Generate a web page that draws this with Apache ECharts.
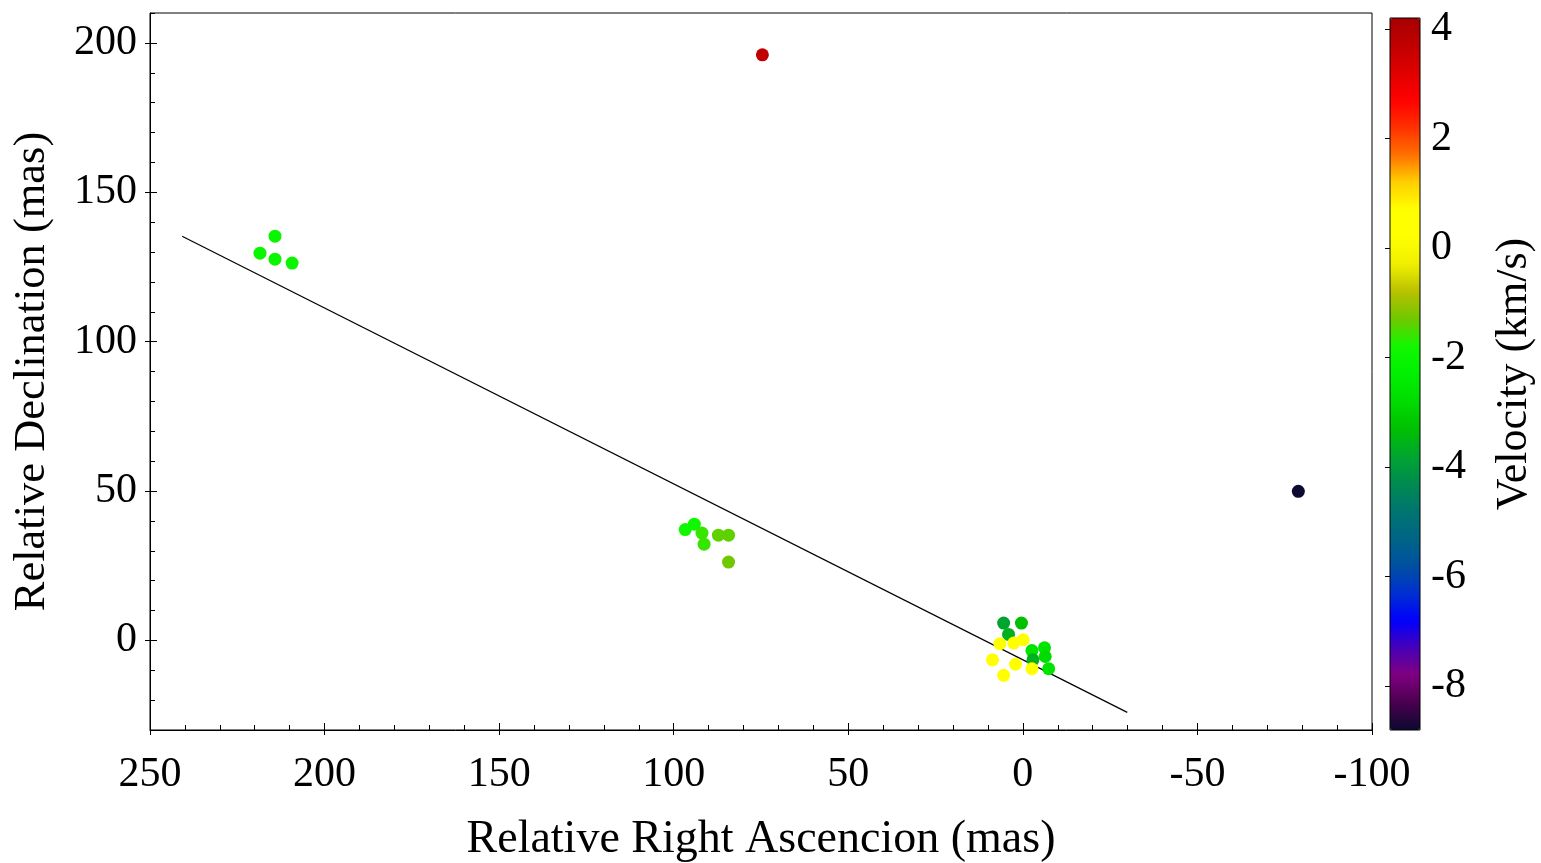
<!DOCTYPE html>
<html>
<head>
<meta charset="utf-8">
<title>Velocity map</title>
<script src="https://cdn.jsdelivr.net/npm/echarts@6/dist/echarts.min.js"></script>
<style>
  html, body { margin: 0; padding: 0; background: #fff; }
  #chart { width: 1541px; height: 863px; }
</style>
</head>
<body>
<div id="chart"></div>
<script>
// spots: [RA offset (mas), Dec offset (mas), velocity (km/s)]
const spotsRA = [
  74.6, -78.9,
  214.2, 218.5, 214.2, 209.3,
  96.7, 94.1, 91.9, 91.3, 87.2, 84.3, 84.3,
  5.5, 0.4, 4.1, 6.6, 2.6, -0.1, -2.6, -6.2, -6.4, -2.9, -7.4, 8.7, 2.1, 5.5, -2.6
];
const spotsDec = [
  196.0, 49.9,
  135.3, 129.6, 127.6, 126.3,
  37.1, 38.9, 35.9, 32.2, 35.2, 35.2, 26.2,
  5.8, 5.8, 2.0, -1.1, -0.9, 0.2, -3.4, -2.5, -5.4, -6.5, -9.5, -6.5, -8.0, -11.7, -9.5
];
const spotsVel = [
  3.7, -8.8,
  -2.0, -2.0, -2.0, -2.0,
  -1.8, -1.8, -1.6, -1.6, -1.4, -1.4, -1.3,
  -3.8, -3.3, -3.6, 0.3, 0.3, 0.3, -2.6, -2.6, -2.8, -3.6, -2.6, 0.3, 0.3, 0.3, 0.3
];
// fitted line end points
const fitRA = [240.8, -29.9];
const fitDec = [135.3, -24.1];

// axis ticks
const raTicks = [250, 200, 150, 100, 50, 0, -50, -100];
const decTicks = [0, 50, 100, 150, 200];
const velTicks = [-8, -6, -4, -2, 0, 2, 4];

// colour bar stops, every 0.5 km/s from -8.8 to 4.2
const velColors = [
  '#0c0a30', '#4a0050', '#800080', '#4800b8', '#0000ff', '#0030d0', '#0050a0',
  '#006585', '#007570', '#008a50', '#00a530', '#00c000', '#00dc00', '#00f000',
  '#10f800', '#70c800', '#b8c000', '#f0f000', '#ffff00', '#ffff00', '#ffd000',
  '#ff7000', '#ff3000', '#ff0000', '#e00000', '#c00000', '#a80000'
];

const spots = spotsRA.map((ra, i) => [ra, spotsDec[i], spotsVel[i]]);
const fitLine = fitRA.map((ra, i) => [ra, fitDec[i]]);

const font = 'Liberation Serif, Times New Roman, serif';
const tickFont = { fontFamily: font, fontSize: 42, color: '#000' };

let myEchart = echarts.init(document.getElementById('chart'));

let optionData = {
  animation: false,
  backgroundColor: '#fff',
  grid: [
    {
      left: 150, top: 13, width: 1222, height: 717, outerBoundsMode: 'none',
      show: true, borderColor: '#000', borderWidth: 1, backgroundColor: 'transparent'
    },
    {
      left: 1390, top: 18, width: 30, height: 712, outerBoundsMode: 'none',
      show: true, borderColor: '#000', borderWidth: 1, backgroundColor: 'transparent', z: 10
    }
  ],
  xAxis: [
    {
      type: 'value', gridIndex: 0, position: 'bottom', min: -100, max: 250, interval: 50, inverse: true,
      axisLine: { show: true, onZero: false, lineStyle: { color: '#000', width: 1 } },
      axisTick: { show: true, inside: true, length: 7, lineStyle: { color: '#000' } },
      minorTick: { show: true, splitNumber: 5, length: 5, lineStyle: { color: '#000' } },
      splitLine: { show: false },
      axisLabel: { ...tickFont, margin: 24, customValues: raTicks },
      name: 'Relative Right Ascencion (mas)',
      nameLocation: 'middle', nameGap: 87,
      nameTextStyle: { fontFamily: font, fontSize: 46, color: '#000' }
    },
    {
      // outer half of the major ticks
      type: 'value', gridIndex: 0, position: 'bottom', min: -100, max: 250, interval: 50, inverse: true,
      axisLine: { show: false, onZero: false },
      axisTick: { show: true, inside: false, length: 5, lineStyle: { color: '#000' } },
      axisLabel: { show: false },
      splitLine: { show: false }
    },
    {
      type: 'value', gridIndex: 1, min: 0, max: 1, show: false
    }
  ],
  yAxis: [
    {
      type: 'value', gridIndex: 0, position: 'left', min: -30, max: 210,
      axisLine: { show: true, onZero: false, lineStyle: { color: '#000', width: 1 } },
      axisTick: { show: true, inside: true, length: 7, customValues: decTicks, lineStyle: { color: '#000' } },
      splitLine: { show: false },
      axisLabel: { ...tickFont, margin: 13, customValues: decTicks },
      name: 'Relative Declination (mas)',
      nameLocation: 'middle', nameGap: 95,
      nameTextStyle: { fontFamily: font, fontSize: 44.5, color: '#000' }
    },
    {
      type: 'value', gridIndex: 0, position: 'left', min: -30, max: 210,
      axisLine: { show: false, onZero: false },
      axisTick: { show: true, inside: false, length: 5, customValues: decTicks, lineStyle: { color: '#000' } },
      axisLabel: { show: false },
      splitLine: { show: false }
    },
    {
      // minor ticks every 10 mas
      type: 'value', gridIndex: 0, position: 'left', min: -30, max: 210, interval: 10,
      axisLine: { show: false, onZero: false },
      axisTick: { show: true, inside: true, length: 5, lineStyle: { color: '#000' } },
      axisLabel: { show: false },
      splitLine: { show: false }
    },
    {
      type: 'value', gridIndex: 1, min: -8.8, max: 4.2, position: 'right',
      axisLine: { show: false },
      axisTick: { show: true, inside: true, length: 5, customValues: velTicks, lineStyle: { color: '#000' } },
      splitLine: { show: false },
      axisLabel: { ...tickFont, margin: 11, customValues: velTicks },
      name: 'Velocity (km/s)',
      nameLocation: 'middle', nameGap: 72,
      nameTextStyle: { fontFamily: font, fontSize: 44, color: '#000' }
    }
  ],
  visualMap: {
    type: 'continuous',
    min: -8.8, max: 4.2,
    dimension: 2,
    seriesIndex: 0,
    calculable: false,
    hoverLink: false,
    show: true,
    left: 1390, top: 18,
    itemWidth: 30, itemHeight: 712,
    padding: 0,
    text: null,
    showLabel: false,
    inRange: { color: velColors }
  },
  series: [
    {
      type: 'scatter',
      xAxisIndex: 0, yAxisIndex: 0,
      symbolSize: 13,
      itemStyle: { opacity: 1 },
      data: spots
    },
    {
      type: 'line',
      xAxisIndex: 0, yAxisIndex: 0,
      symbol: 'none',
      lineStyle: { color: '#000', width: 1.2 },
      data: fitLine,
      z: 1
    }
  ]
};

myEchart.setOption(optionData);
</script>
</body>
</html>
